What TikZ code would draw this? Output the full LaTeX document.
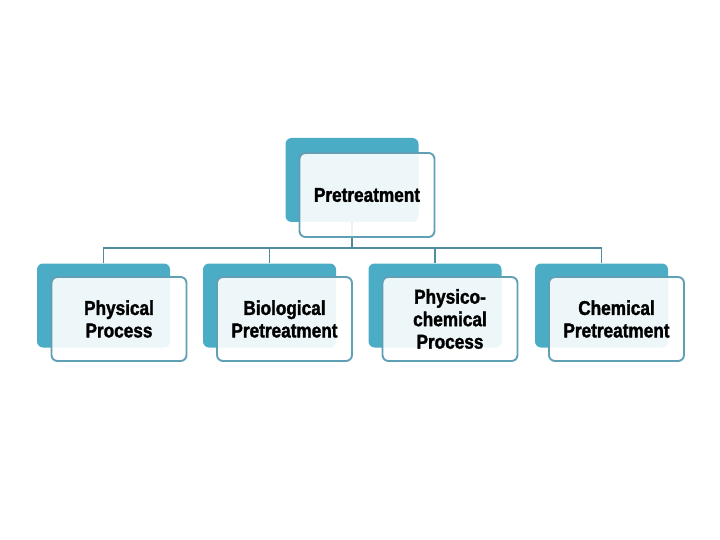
\documentclass[tikz,border=0pt]{standalone}
\usepackage{fontspec}
\newfontfamily\lblfont{Liberation Sans}[FakeStretch=0.86,FakeBold=1.6]
\begin{document}
\begin{tikzpicture}[x=1pt,y=-1pt,
  backbox/.style={fill=backblue, rounded corners=6pt, minimum width=133pt, minimum height=84pt, inner sep=0pt},
  frontbox/.style={draw=frontline, line width=1.9pt, fill=white, fill opacity=0.9, text opacity=1, rounded corners=6pt, minimum width=135pt, minimum height=84pt, inner sep=0pt, align=center, font=\lblfont\bfseries\fontsize{20}{22.5}\selectfont},
  conn/.style={draw=connline, line width=1.8pt}]
\definecolor{backblue}{RGB}{75,172,198}
\definecolor{frontline}{RGB}{95,160,181}
\definecolor{connline}{RGB}{80,140,158}
\useasboundingbox (0,0) rectangle (720,540);
% back boxes
\node[backbox] (tb) at (352,180) {};
\node[backbox] (b1) at (103.5,305.5) {};
\node[backbox] (b2) at (269.5,305.5) {};
\node[backbox] (b3) at (435,305.5) {};
\node[backbox] (b4) at (601.5,305.5) {};
% connectors
\coordinate (hl) at (103.5,248);
\draw[conn] (b1.north) -- (b1.north |- hl) -- (b4.north |- hl) -- (b4.north);
\draw[conn] (tb.south) -- (tb.south |- hl);
\draw[conn] (b2.north) -- (b2.north |- hl);
\draw[conn] (b3.north) -- (b3.north |- hl);
% front boxes
\node[frontbox] (tf) at (367,195) {Pretreatment};
\node[frontbox] (f1) at (119,319) {Physical\\Process};
\node[frontbox] (f2) at (284.5,319) {Biological\\Pretreatment};
\node[frontbox] (f3) at (450,319) {Physico-\\chemical\\Process};
\node[frontbox] (f4) at (616.5,319) {Chemical\\Pretreatment};
\end{tikzpicture}
\end{document}
